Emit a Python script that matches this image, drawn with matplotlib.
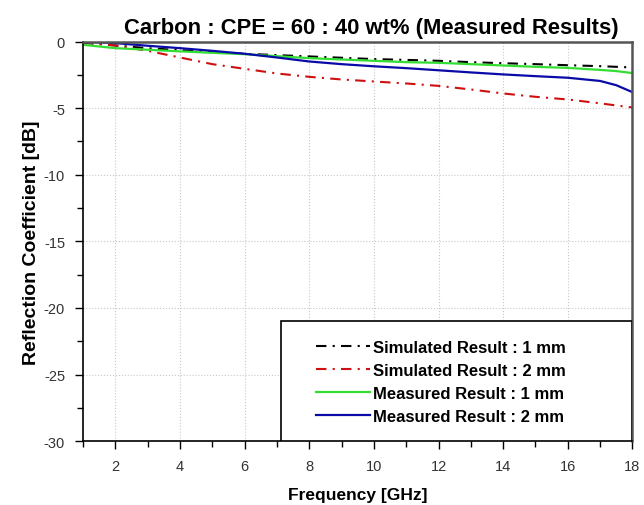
import numpy as np
import matplotlib
matplotlib.use("Agg")
import matplotlib.pyplot as plt
from matplotlib.ticker import MultipleLocator
from matplotlib.patches import Rectangle

plt.rcParams['font.family'] = ['Liberation Sans', 'DejaVu Sans']
plt.rcParams['axes.unicode_minus'] = False

# values (GHz, dB)
freq = [1, 2, 3, 4, 5, 6, 7, 8, 9, 10, 11, 12, 13, 14, 15, 16, 17, 17.5, 18]
sim_1mm = [-0.1, -0.3, -0.5, -0.65, -0.8, -0.92, -1.02, -1.12, -1.22, -1.32,
           -1.38, -1.45, -1.55, -1.63, -1.7, -1.78, -1.85, -1.9, -1.95]
sim_2mm = [-0.05, -0.3, -0.7, -1.2, -1.7, -2.05, -2.4, -2.65, -2.85, -3.0,
           -3.15, -3.33, -3.6, -3.9, -4.15, -4.35, -4.64, -4.8, -4.95]
meas_1mm = [-0.25, -0.5, -0.62, -0.74, -0.85, -0.95, -1.1, -1.25, -1.35, -1.45,
            -1.55, -1.6, -1.7, -1.8, -1.9, -1.98, -2.13, -2.22, -2.37]
meas_2mm = [0.0, -0.12, -0.32, -0.5, -0.7, -0.92, -1.2, -1.5, -1.7, -1.86,
            -2.0, -2.16, -2.32, -2.47, -2.6, -2.72, -2.96, -3.28, -3.8]

labels = ['Simulated Result : 1 mm', 'Simulated Result : 2 mm',
          'Measured Result : 1 mm', 'Measured Result : 2 mm']

fig = plt.figure(figsize=(6.44, 5.06), dpi=100)
ax = fig.add_axes([0.129, 0.126, 0.853, 0.79])

ax.plot(freq, sim_1mm, color='black', lw=1.5, dashes=(5, 3, 1, 3), label=labels[0])
ax.plot(freq, sim_2mm, color='#d01010', lw=1.5, dashes=(5, 3, 1, 3), label=labels[1])
ax.plot(freq, meas_1mm, color='#33dd33', lw=1.6, label=labels[2])
ax.plot(freq, meas_2mm, color='#0a0aa8', lw=1.6, label=labels[3])

ax.set_xlim(1, 18)
ax.set_ylim(-30, 0)
ax.xaxis.set_major_locator(MultipleLocator(2))
ax.xaxis.set_minor_locator(MultipleLocator(1))
ax.yaxis.set_major_locator(MultipleLocator(5))
ax.yaxis.set_minor_locator(MultipleLocator(2.5))
ax.tick_params(which='major', direction='out', length=6, width=1, labelsize=10.5,
               labelcolor='#333333', pad=7)
ax.tick_params(which='minor', direction='out', length=4, width=1)
ax.grid(True, which='major', color='#c8c8c8', ls=':', lw=0.8)

for s in ['top', 'right']:
    ax.spines[s].set_color('#555555')
    ax.spines[s].set_linewidth(1.8)
for s in ['left', 'bottom']:
    ax.spines[s].set_linewidth(1.2)

ax.set_title('Carbon : CPE = 60 : 40 wt% (Measured Results)', fontsize=15.8,
             fontweight='bold', pad=6, x=0.525)
ax.set_xlabel('Frequency [GHz]', fontsize=12.5, fontweight='bold', labelpad=10)
ax.set_ylabel('Reflection Coefficient [dB]', fontsize=14, fontweight='bold', labelpad=3)

# legend box
ax.add_patch(Rectangle((0.36, 0.0), 0.64, 0.30, transform=ax.transAxes,
                       facecolor='white', edgecolor='black', lw=1.2, zorder=3))
leg = ax.legend(loc='center left', bbox_to_anchor=(0.424, 0.1475), frameon=False,
                prop={'weight': 'bold', 'size': 12}, handlelength=3.25,
                handletextpad=0.15, labelspacing=0.48, borderpad=0,
                borderaxespad=0)
leg.set_zorder(4)

fig.savefig('out.png', dpi=100)
